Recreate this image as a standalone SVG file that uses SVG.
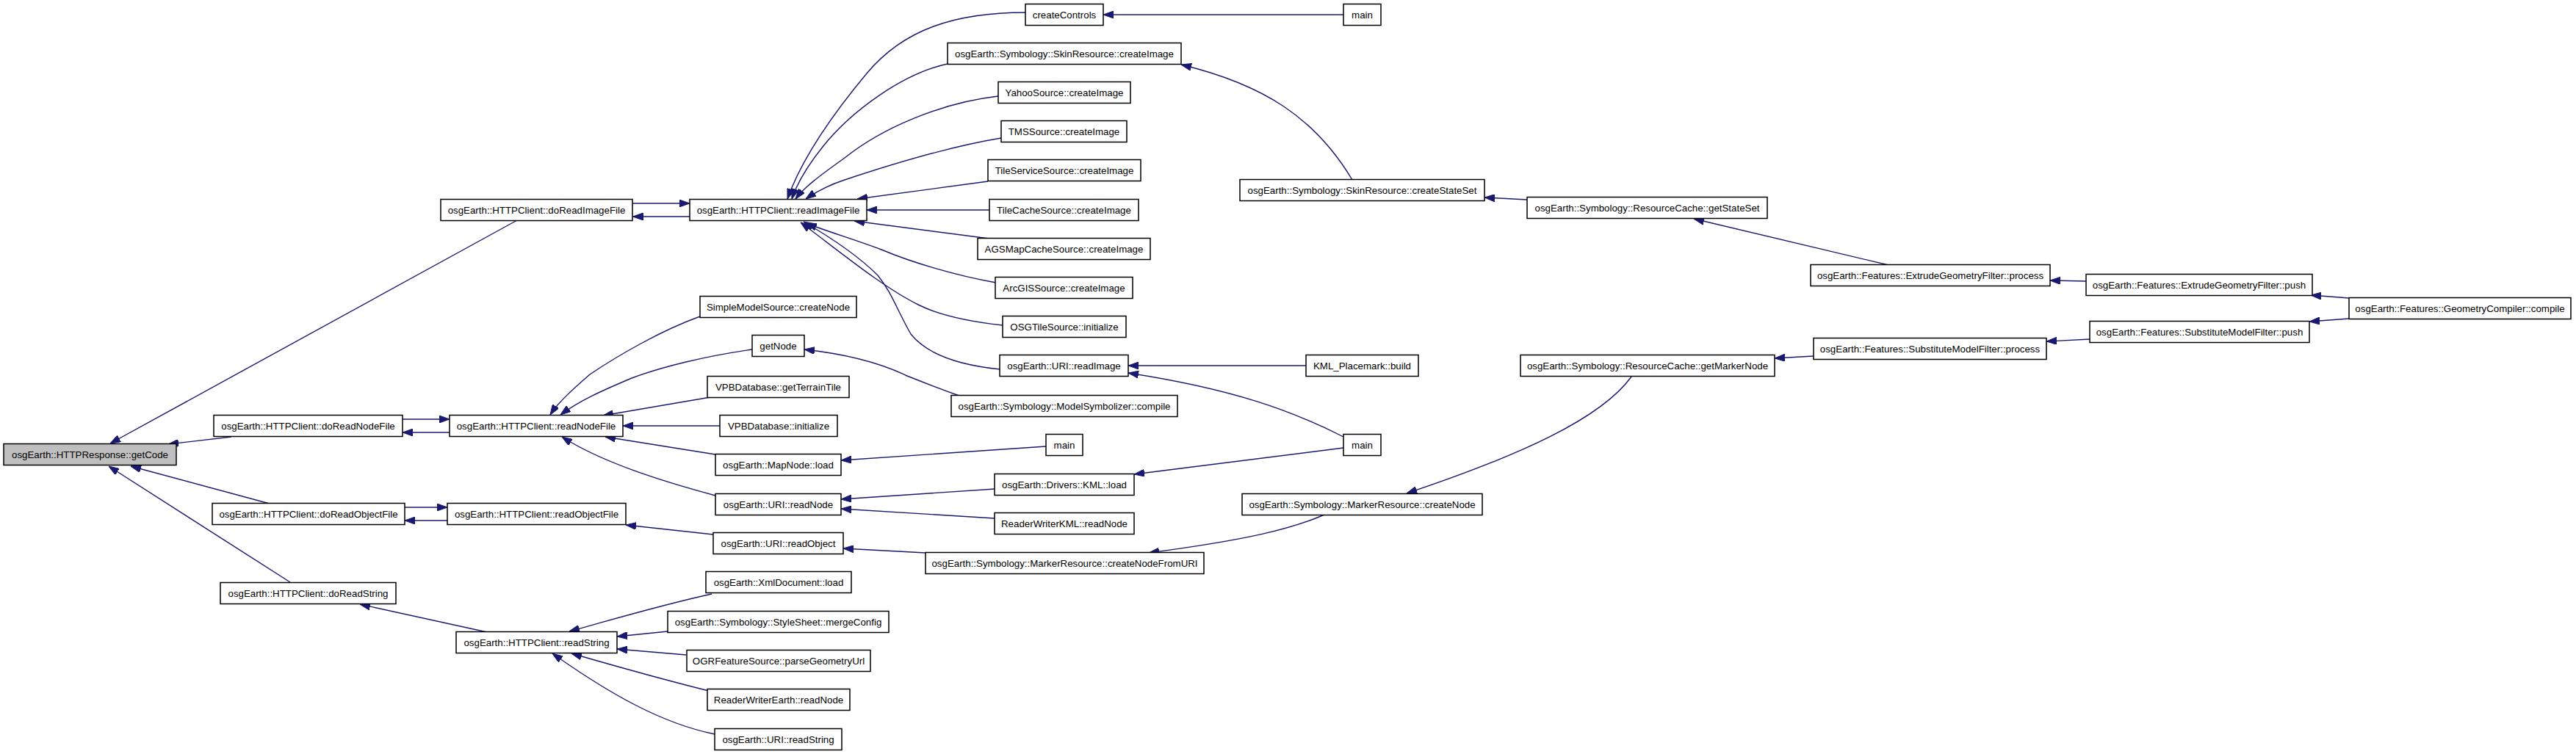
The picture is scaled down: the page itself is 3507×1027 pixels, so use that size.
<svg xmlns="http://www.w3.org/2000/svg" width="3507" height="1027" viewBox="0 0 3507 1027">
<style>
.node rect{fill:#fff;stroke:#000;stroke-width:1.5}
.node.root rect{fill:#bfbfbf}
.node text{font-family:"Liberation Sans",Arial,sans-serif;font-size:13.3px;fill:#000;text-anchor:middle}
#edges path{fill:none;stroke:#191970;stroke-width:1.4;marker-end:url(#arr)}
</style>
<defs>
<marker id="arr" markerUnits="userSpaceOnUse" viewBox="0 0 14 10" refX="14" refY="5" markerWidth="14" markerHeight="10" orient="auto">
<path d="M0,0 L14,5 L0,10 z" fill="#191970" stroke="#191970" stroke-width="1"/>
</marker>
</defs>
<rect width="3507" height="1027" fill="#fff"/>
<g id="edges">
<path d="M704,300 L150,604"/>
<path d="M315,595 L229,605"/>
<path d="M367,686 L178,635"/>
<path d="M395,793 L148,635"/>
<path d="M861,277 L939,277"/>
<path d="M939,295 L861.5,295"/>
<path d="M548,571 L612,571"/>
<path d="M612,589 L548,589"/>
<path d="M551,691 L609,691"/>
<path d="M609,709 L551,709"/>
<path d="M663,861 L490,823"/>
<path d="M1396,17 C1300,17 1230,40 1180,100 C1130,160 1090,220 1072,271"/>
<path d="M1290,87 C1230,100 1160,150 1120,200 C1100,225 1085,250 1078,271"/>
<path d="M1359,131 C1280,140 1200,175 1150,215 C1115,240 1095,255 1083,271"/>
<path d="M1363,188 C1290,200 1210,225 1150,245 C1125,253 1110,262 1097,271"/>
<path d="M1345,247 L1167,271"/>
<path d="M1347,286 L1180,286"/>
<path d="M1347,325 L1163,301"/>
<path d="M1356,385 C1300,375 1240,357 1200,340 C1160,325 1125,315 1098,304"/>
<path d="M1365,443 C1320,438 1280,430 1250,415 C1200,390 1140,340 1090,303"/>
<path d="M1362,503 C1300,497 1260,480 1240,455 C1220,420 1215,400 1195,375 C1165,345 1125,320 1094,302"/>
<path d="M953,431 C900,450 840,485 803,510 C780,530 760,548 749,565"/>
<path d="M1024,476 C960,485 900,500 860,515 C820,532 790,545 763,565"/>
<path d="M967,541 L821,566"/>
<path d="M980,580 L848,580"/>
<path d="M974,619 L824,595"/>
<path d="M974,675 C900,655 820,630 765,595"/>
<path d="M971,728 L852,715"/>
<path d="M969,809 C900,824 830,845 775,860"/>
<path d="M909,860 L840,867"/>
<path d="M934,892 L840,884"/>
<path d="M969,942 C900,925 830,905 778,890"/>
<path d="M973,1000 C900,985 830,945 752,890"/>
<path d="M1306,539 C1275,528 1255,520 1235,512 C1200,495 1150,482 1095,476"/>
<path d="M1424,608 L1145,627"/>
<path d="M1354,666 L1145,680"/>
<path d="M1354,706 L1145,693"/>
<path d="M1260,753 L1148,747"/>
<path d="M1829,20 L1502,20"/>
<path d="M1841,245 C1790,160 1720,115 1608,88"/>
<path d="M1778,498 L1536,498"/>
<path d="M1829,595 C1760,560 1680,530 1536,508"/>
<path d="M1829,610 L1544,646"/>
<path d="M1803,701 C1760,720 1700,735 1564,753"/>
<path d="M2079,272 L2021,269"/>
<path d="M2221,513 C2180,570 2070,620 1915,672"/>
<path d="M2571,361 L2306,298"/>
<path d="M2469,485 L2416,488"/>
<path d="M2840,383 L2791,382"/>
<path d="M2845,462 L2786,465"/>
<path d="M3198,406 L3146,402"/>
<path d="M3198,434 L3144,438"/>
</g>
<g id="n_getCode" class="node root"><rect x="5" y="604.5" width="235" height="29"/><text x="122.5" y="623.7">osgEarth::HTTPResponse::getCode</text></g>
<g id="n_doReadNodeFile" class="node"><rect x="291" y="565.5" width="257" height="29"/><text x="419.5" y="584.7">osgEarth::HTTPClient::doReadNodeFile</text></g>
<g id="n_doReadObjectFile" class="node"><rect x="289" y="685.5" width="262" height="29"/><text x="420" y="704.7">osgEarth::HTTPClient::doReadObjectFile</text></g>
<g id="n_doReadString" class="node"><rect x="300" y="793.5" width="239" height="29"/><text x="419.5" y="812.7">osgEarth::HTTPClient::doReadString</text></g>
<g id="n_doReadImageFile" class="node"><rect x="600" y="271.5" width="261" height="29"/><text x="730.5" y="290.7">osgEarth::HTTPClient::doReadImageFile</text></g>
<g id="n_readNodeFile" class="node"><rect x="612" y="565.5" width="236" height="29"/><text x="730" y="584.7">osgEarth::HTTPClient::readNodeFile</text></g>
<g id="n_readObjectFile" class="node"><rect x="609" y="685.5" width="243" height="29"/><text x="730.5" y="704.7">osgEarth::HTTPClient::readObjectFile</text></g>
<g id="n_readString" class="node"><rect x="621" y="860.5" width="219" height="29"/><text x="730.5" y="879.7">osgEarth::HTTPClient::readString</text></g>
<g id="n_readImageFile" class="node"><rect x="939" y="271.5" width="241" height="29"/><text x="1059.5" y="290.7">osgEarth::HTTPClient::readImageFile</text></g>
<g id="n_SimpleModelSource_createNode" class="node"><rect x="953" y="403.5" width="213" height="29"/><text x="1059.5" y="422.7">SimpleModelSource::createNode</text></g>
<g id="n_getNode" class="node"><rect x="1024" y="456.5" width="71" height="29"/><text x="1059.5" y="475.7">getNode</text></g>
<g id="n_VPB_getTerrainTile" class="node"><rect x="963" y="512.5" width="193" height="29"/><text x="1059.5" y="531.7">VPBDatabase::getTerrainTile</text></g>
<g id="n_VPB_initialize" class="node"><rect x="980" y="565.5" width="160" height="29"/><text x="1060" y="584.7">VPBDatabase::initialize</text></g>
<g id="n_MapNode_load" class="node"><rect x="974" y="618.5" width="171" height="29"/><text x="1059.5" y="637.7">osgEarth::MapNode::load</text></g>
<g id="n_URI_readNode" class="node"><rect x="974" y="672.5" width="171" height="29"/><text x="1059.5" y="691.7">osgEarth::URI::readNode</text></g>
<g id="n_URI_readObject" class="node"><rect x="971" y="725.5" width="177" height="29"/><text x="1059.5" y="744.7">osgEarth::URI::readObject</text></g>
<g id="n_XmlDocument_load" class="node"><rect x="961" y="778.5" width="198" height="29"/><text x="1060" y="797.7">osgEarth::XmlDocument::load</text></g>
<g id="n_StyleSheet_mergeConfig" class="node"><rect x="909" y="832.5" width="301" height="29"/><text x="1059.5" y="851.7">osgEarth::Symbology::StyleSheet::mergeConfig</text></g>
<g id="n_OGR_parseGeometryUrl" class="node"><rect x="935" y="885.5" width="250" height="29"/><text x="1060" y="904.7">OGRFeatureSource::parseGeometryUrl</text></g>
<g id="n_ReaderWriterEarth_readNode" class="node"><rect x="963" y="938.5" width="194" height="29"/><text x="1060" y="957.7">ReaderWriterEarth::readNode</text></g>
<g id="n_URI_readString" class="node"><rect x="973" y="992.5" width="173" height="29"/><text x="1059.5" y="1011.7">osgEarth::URI::readString</text></g>
<g id="n_createControls" class="node"><rect x="1396" y="5.5" width="106" height="29"/><text x="1449" y="24.7">createControls</text></g>
<g id="n_SkinResource_createImage" class="node"><rect x="1290" y="58.5" width="318" height="29"/><text x="1449" y="77.7">osgEarth::Symbology::SkinResource::createImage</text></g>
<g id="n_YahooSource" class="node"><rect x="1359" y="111.5" width="180" height="29"/><text x="1449" y="130.7">YahooSource::createImage</text></g>
<g id="n_TMSSource" class="node"><rect x="1363" y="164.5" width="171" height="29"/><text x="1448.5" y="183.7">TMSSource::createImage</text></g>
<g id="n_TileServiceSource" class="node"><rect x="1345" y="217.5" width="208" height="29"/><text x="1449" y="236.7">TileServiceSource::createImage</text></g>
<g id="n_TileCacheSource" class="node"><rect x="1347" y="271.5" width="203" height="29"/><text x="1448.5" y="290.7">TileCacheSource::createImage</text></g>
<g id="n_AGSMapCacheSource" class="node"><rect x="1331" y="324.5" width="235" height="29"/><text x="1448.5" y="343.7">AGSMapCacheSource::createImage</text></g>
<g id="n_ArcGISSource" class="node"><rect x="1355" y="377.5" width="187" height="29"/><text x="1448.5" y="396.7">ArcGISSource::createImage</text></g>
<g id="n_OSGTileSource" class="node"><rect x="1365" y="430.5" width="168" height="29"/><text x="1449" y="449.7">OSGTileSource::initialize</text></g>
<g id="n_URI_readImage" class="node"><rect x="1361" y="483.5" width="175" height="29"/><text x="1448.5" y="502.7">osgEarth::URI::readImage</text></g>
<g id="n_ModelSymbolizer_compile" class="node"><rect x="1295" y="538.5" width="308" height="29"/><text x="1449" y="557.7">osgEarth::Symbology::ModelSymbolizer::compile</text></g>
<g id="n_main2" class="node"><rect x="1424" y="591.5" width="50" height="29"/><text x="1449" y="610.7">main</text></g>
<g id="n_KML_load" class="node"><rect x="1354" y="645.5" width="190" height="29"/><text x="1449" y="664.7">osgEarth::Drivers::KML::load</text></g>
<g id="n_ReaderWriterKML_readNode" class="node"><rect x="1354" y="698.5" width="190" height="29"/><text x="1449" y="717.7">ReaderWriterKML::readNode</text></g>
<g id="n_createNodeFromURI" class="node"><rect x="1260" y="752.5" width="379" height="29"/><text x="1449.5" y="771.7">osgEarth::Symbology::MarkerResource::createNodeFromURI</text></g>
<g id="n_main1" class="node"><rect x="1829" y="5.5" width="51" height="29"/><text x="1854.5" y="24.7">main</text></g>
<g id="n_createStateSet" class="node"><rect x="1688" y="244.5" width="333" height="29"/><text x="1854.5" y="263.7">osgEarth::Symbology::SkinResource::createStateSet</text></g>
<g id="n_KML_Placemark_build" class="node"><rect x="1778" y="483.5" width="153" height="29"/><text x="1854.5" y="502.7">KML_Placemark::build</text></g>
<g id="n_main3" class="node"><rect x="1829" y="591.5" width="51" height="29"/><text x="1854.5" y="610.7">main</text></g>
<g id="n_MarkerResource_createNode" class="node"><rect x="1691" y="672.5" width="327" height="29"/><text x="1854.5" y="691.7">osgEarth::Symbology::MarkerResource::createNode</text></g>
<g id="n_getStateSet" class="node"><rect x="2079" y="268.5" width="327" height="29"/><text x="2242.5" y="287.7">osgEarth::Symbology::ResourceCache::getStateSet</text></g>
<g id="n_getMarkerNode" class="node"><rect x="2070" y="483.5" width="346" height="29"/><text x="2243" y="502.7">osgEarth::Symbology::ResourceCache::getMarkerNode</text></g>
<g id="n_Extrude_process" class="node"><rect x="2465" y="360.5" width="326" height="29"/><text x="2628" y="379.7">osgEarth::Features::ExtrudeGeometryFilter::process</text></g>
<g id="n_Substitute_process" class="node"><rect x="2469" y="460.5" width="317" height="29"/><text x="2627.5" y="479.7">osgEarth::Features::SubstituteModelFilter::process</text></g>
<g id="n_Extrude_push" class="node"><rect x="2840" y="373.5" width="308" height="29"/><text x="2994" y="392.7">osgEarth::Features::ExtrudeGeometryFilter::push</text></g>
<g id="n_Substitute_push" class="node"><rect x="2845" y="437.5" width="299" height="29"/><text x="2994.5" y="456.7">osgEarth::Features::SubstituteModelFilter::push</text></g>
<g id="n_GeometryCompiler_compile" class="node"><rect x="3198" y="405.5" width="302" height="29"/><text x="3349" y="424.7">osgEarth::Features::GeometryCompiler::compile</text></g>
</svg>
